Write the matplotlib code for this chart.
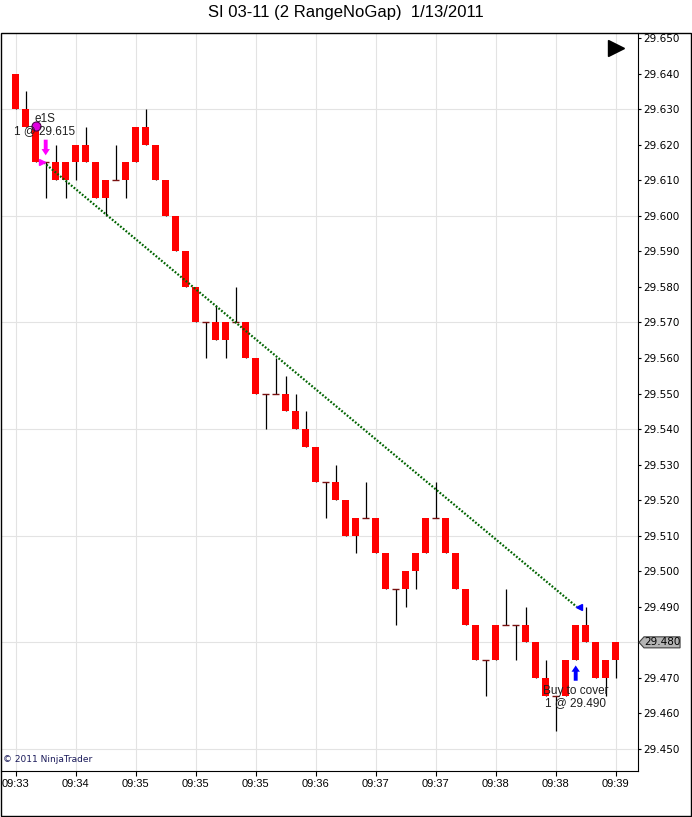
import matplotlib
matplotlib.use("Agg")
import matplotlib.pyplot as plt
from matplotlib.patches import Polygon, Rectangle

title = "SI 03-11 (2 RangeNoGap)  1/13/2011"

# one entry per range bar (body_top / body_bottom, all bodies drawn red)
highs = [29.640, 29.635, 29.625, 29.615, 29.620, 29.615, 29.620, 29.625, 29.615, 29.610,
         29.620, 29.615, 29.625, 29.630, 29.620, 29.610, 29.600, 29.590, 29.580, 29.570,
         29.575, 29.570, 29.580, 29.570, 29.560, 29.550, 29.560, 29.555, 29.550, 29.545,
         29.535, 29.525, 29.530, 29.520, 29.515, 29.525, 29.515, 29.505, 29.495, 29.500,
         29.505, 29.515, 29.525, 29.515, 29.505, 29.495, 29.485, 29.475, 29.485, 29.495,
         29.485, 29.490, 29.480, 29.475, 29.465, 29.475, 29.485, 29.490, 29.480, 29.475,
         29.480]
lows = [29.630, 29.625, 29.615, 29.605, 29.610, 29.605, 29.610, 29.615, 29.605, 29.600,
        29.610, 29.605, 29.615, 29.620, 29.610, 29.600, 29.590, 29.580, 29.570, 29.560,
        29.565, 29.560, 29.570, 29.560, 29.550, 29.540, 29.550, 29.545, 29.540, 29.535,
        29.525, 29.515, 29.520, 29.510, 29.505, 29.515, 29.505, 29.495, 29.485, 29.490,
        29.495, 29.505, 29.515, 29.505, 29.495, 29.485, 29.475, 29.465, 29.475, 29.485,
        29.475, 29.480, 29.470, 29.465, 29.455, 29.465, 29.475, 29.480, 29.470, 29.465,
        29.470]
body_top = [29.640, 29.630, 29.625, 29.615, 29.615, 29.615, 29.620, 29.620, 29.615, 29.610,
            29.610, 29.615, 29.625, 29.625, 29.620, 29.610, 29.600, 29.590, 29.580, 29.570,
            29.570, 29.570, 29.570, 29.570, 29.560, 29.550, 29.550, 29.550, 29.545, 29.540,
            29.535, 29.525, 29.525, 29.520, 29.515, 29.515, 29.515, 29.505, 29.495, 29.500,
            29.505, 29.515, 29.515, 29.515, 29.505, 29.495, 29.485, 29.475, 29.485, 29.485,
            29.485, 29.485, 29.480, 29.470, 29.465, 29.475, 29.485, 29.485, 29.480, 29.475,
            29.480]
body_bottom = [29.630, 29.625, 29.615, 29.615, 29.610, 29.610, 29.615, 29.615, 29.605, 29.605,
               29.610, 29.610, 29.615, 29.620, 29.610, 29.600, 29.590, 29.580, 29.570, 29.570,
               29.565, 29.565, 29.570, 29.560, 29.550, 29.550, 29.550, 29.545, 29.540, 29.535,
               29.525, 29.525, 29.520, 29.510, 29.510, 29.515, 29.505, 29.495, 29.495, 29.495,
               29.500, 29.505, 29.515, 29.505, 29.495, 29.485, 29.475, 29.475, 29.475, 29.485,
               29.485, 29.480, 29.470, 29.465, 29.465, 29.465, 29.475, 29.480, 29.470, 29.470,
               29.475]

time_labels = ["09:33", "09:34", "09:35", "09:35", "09:35", "09:36",
               "09:37", "09:37", "09:38", "09:38", "09:39"]
time_ticks = [0, 6, 12, 18, 24, 30, 36, 42, 48, 54, 60]

price_ticks = [round(29.45 + 0.01 * i, 3) for i in range(21)]
grid_prices = [29.450, 29.480, 29.510, 29.540, 29.570, 29.600, 29.630]

entry_bar, entry_price = 3, 29.615
exit_bar, exit_price = 56, 29.490
last_price = 29.480

fig = plt.figure(figsize=(6.92, 8.17), dpi=100)
ax = fig.add_axes([1 / 692, 46 / 817, 637 / 692, 738 / 817])
ax.set_xlim(-1.47, 62.23)
ax.set_ylim(29.44381, 29.65141)

for x in time_ticks:
    ax.axvline(x, color="#e3e3e3", lw=0.8, zorder=0)
for p in grid_prices:
    ax.axhline(p, color="#e3e3e3", lw=0.8, zorder=0)

xs = list(range(len(highs)))
ax.vlines(xs, lows, highs, color="black", lw=0.9, zorder=2)
heights = [t - b for t, b in zip(body_top, body_bottom)]
ax.bar(xs, heights, bottom=body_bottom, width=0.68, color="#ff0000", zorder=3)
doji = [i for i in xs if heights[i] == 0]
ax.hlines([body_top[i] for i in doji], [i - 0.34 for i in doji], [i + 0.34 for i in doji],
          color="#7a1010", lw=1, zorder=3)

# trade line and markers
ax.plot([entry_bar - 0.2, exit_bar + 0.1], [entry_price, exit_price],
        color="#006400", lw=1.6, dashes=(0.8, 0.8), zorder=4)
ax.plot(entry_bar - 0.4, entry_price, marker=">", ms=5, color="#ff00ff", zorder=5)
ax.plot(exit_bar + 0.35, exit_price, marker="<", ms=5, color="#0000ff", zorder=5)
ax.plot(2, 29.6253, marker="o", ms=6.5, mfc="#e000e0", mec="#500050", mew=0.8, zorder=5)
arrow = "simple,head_width=0.6,head_length=0.45,tail_width=0.28"
ax.annotate("", xy=(entry_bar, 29.6170), xytext=(entry_bar, 29.6214),
            arrowprops=dict(arrowstyle=arrow, color="#ff00ff", lw=0,
                            shrinkA=0, shrinkB=0), zorder=5)
ax.annotate("", xy=(exit_bar, 29.4735), xytext=(exit_bar, 29.4692),
            arrowprops=dict(arrowstyle=arrow, color="#0000ff", lw=0,
                            shrinkA=0, shrinkB=0), zorder=5)

txt = dict(family="Liberation Sans", fontsize=8.5, color="#202020", ha="center",
           va="center", zorder=6)
ax.text(entry_bar - 0.1, 29.6272, "e1S", **txt)
ax.text(entry_bar - 0.1, 29.6238, "1 @ 29.615", **txt)
ax.text(exit_bar, 29.4663, "Buy to cover", **txt)
ax.text(exit_bar, 29.4630, "1 @ 29.490", **txt)

ax.plot([0.965], [0.979], marker=">", ms=11, color="black", transform=ax.transAxes,
        clip_on=False, zorder=6)
ax.text(0.003, 0.009, "\u00a9 2011 NinjaTrader", transform=ax.transAxes, fontsize=6.5,
        color="#1a1a5a", va="bottom", ha="left")

# axes styling
ax.spines["top"].set_visible(False)
ax.spines["left"].set_visible(False)
ax.yaxis.tick_right()
ax.set_yticks(price_ticks)
ax.set_yticklabels(["" if p == last_price else f"{p:.3f}" for p in price_ticks])
ax.tick_params(axis="y", direction="out", length=2.5, width=0.8, pad=1.5, labelsize=7.5)
ax.set_xticks(time_ticks)
ax.set_xticklabels(time_labels, family="Liberation Sans", fontsize=8)
ax.tick_params(axis="x", direction="out", length=3.6, width=0.8, pad=2)

# last price box on the axis
tr = ax.get_yaxis_transform()
h = 0.00155
box = Polygon([(1.0016, last_price), (1.0094, last_price + h), (1.066, last_price + h),
               (1.066, last_price - h), (1.0094, last_price - h)],
              closed=True, transform=tr, clip_on=False, facecolor="#b4b4b4",
              edgecolor="#404040", lw=0.8, zorder=7)
ax.add_patch(box)
ax.text(1.0105, last_price, f"{last_price:.3f}", transform=tr, fontsize=7.5, va="center",
        ha="left", clip_on=False, zorder=8)

fig.patches.append(Rectangle((0.5 / 692, 1 / 817), 690.5 / 692, 783 / 817, fill=False,
                             edgecolor="black", lw=1, transform=fig.transFigure))
fig.text(0.5, 1 - 13 / 817, title, family="Liberation Sans", fontsize=12,
         ha="center", va="center")

fig.savefig("out.png", dpi=100)
